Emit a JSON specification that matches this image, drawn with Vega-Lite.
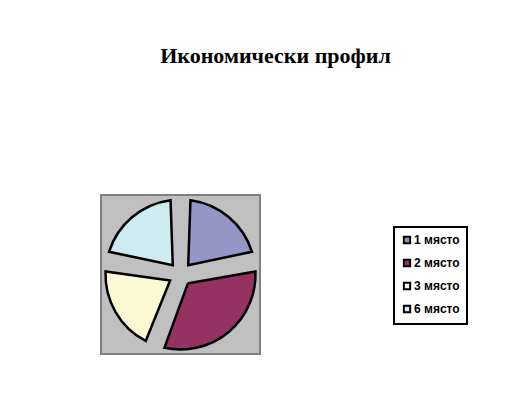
{
  "$schema": "https://vega.github.io/schema/vega-lite/v6.json",
  "width": 159,
  "height": 159,
  "autosize": {"type": "none"},
  "padding": {"left": 101, "top": 195, "right": 247, "bottom": 47},
  "background": "white",
  "title": {
    "text": "Икономически профил",
    "font": "Liberation Serif",
    "fontSize": 22,
    "fontWeight": "bold",
    "color": "black",
    "anchor": "middle",
    "dx": 95,
    "offset": 110,
    "baseline": "alphabetic"
  },
  "data": {
    "values": [
      {"place": "1 място", "value": 4},
      {"place": "2 място", "value": 6},
      {"place": "3 място", "value": 4},
      {"place": "6 място", "value": 4}
    ]
  },
  "mark": {
    "type": "arc",
    "outerRadius": 75,
    "innerRadius": 12,
    "padAngle": 0.263,
    "stroke": "black",
    "strokeWidth": 2.5
  },
  "encoding": {
    "theta": {"field": "value", "type": "quantitative", "stack": true},
    "color": {
      "field": "place",
      "type": "nominal",
      "scale": {
        "domain": ["1 място", "2 място", "3 място", "6 място"],
        "range": ["#9595C8", "#953262", "#FBF9D3", "#CEEBEF"]
      },
      "legend": {
        "orient": "none",
        "legendX": 293,
        "legendY": 32,
        "title": null,
        "symbolType": "square",
        "symbolSize": 40,
        "symbolStrokeColor": "black",
        "symbolStrokeWidth": 2,
        "symbolOpacity": 1,
        "labelFont": "Liberation Sans",
        "labelFontSize": 12,
        "labelFontWeight": "bold",
        "labelColor": "black",
        "labelOffset": 1,
        "rowPadding": 7,
        "padding": 7,
        "strokeColor": "black",
        "fillColor": "white",
        "cornerRadius": 0,
        "encode": {"legend": {"update": {"strokeWidth": {"value": 2}}}}
      }
    }
  },
  "view": {"fill": "#C0C0C0", "stroke": "#808080", "strokeWidth": 2}
}
